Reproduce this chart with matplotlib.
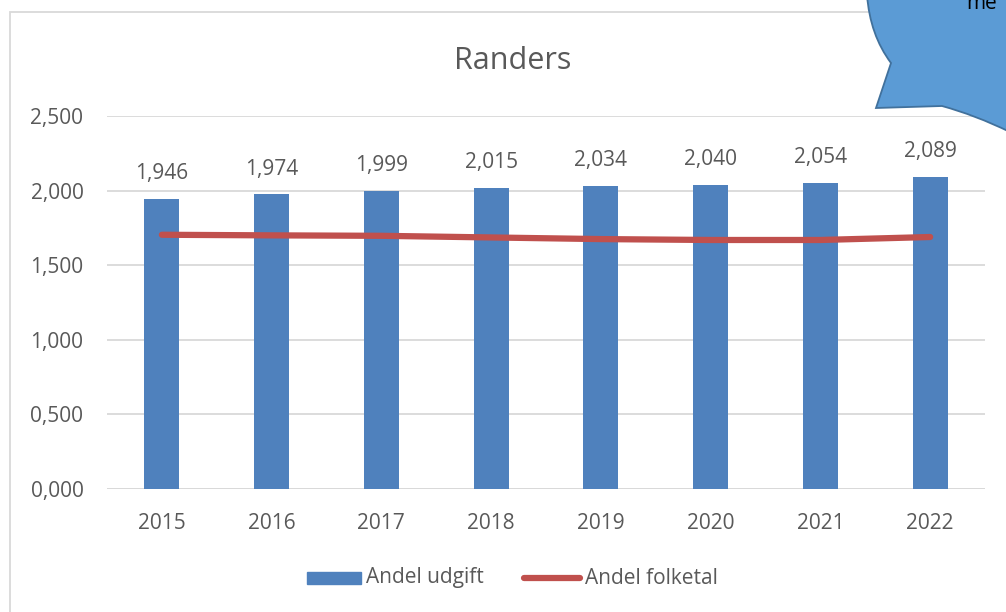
import matplotlib.pyplot as plt
import numpy as np
from matplotlib.patches import PathPatch, Rectangle
from matplotlib.path import Path

years = ["2015", "2016", "2017", "2018", "2019", "2020", "2021", "2022"]
andel_udgift = [1.946, 1.974, 1.999, 2.015, 2.034, 2.040, 2.054, 2.089]
andel_folketal = [1.704, 1.700, 1.697, 1.686, 1.675, 1.669, 1.669, 1.689]
y_ticks = [0.0, 0.5, 1.0, 1.5, 2.0, 2.5]

plt.rcParams["font.family"] = ["Open Sans", "DejaVu Sans"]
text_color = "#595959"


def dk(v):
    # Danish decimal comma, as in the source
    return f"{v:.3f}".replace(".", ",")


W, H = 1006, 612
fig = plt.figure(figsize=(W / 100, H / 100), dpi=100)
ax = fig.add_axes([107 / W, 1 - 489 / H, (985 - 107) / W, (489 - 116) / H])

x = np.arange(len(years))
ax.bar(x, andel_udgift, width=0.32, color="#4F81BD", zorder=2)
ax.plot(x, andel_folketal, color="#C0504D", linewidth=4.5,
        solid_capstyle="round", zorder=3)

for xi, v in zip(x, andel_udgift):
    ax.text(xi, v + 0.1, dk(v), ha="center", va="bottom",
            fontsize=15, color=text_color)

ax.set_xlim(-0.5, len(years) - 0.5)
ax.set_ylim(0, 2.5)
ax.set_yticks(y_ticks)
ax.set_yticklabels([dk(t) for t in y_ticks])
ax.set_xticks(x)
ax.set_xticklabels(years)
ax.tick_params(length=0, labelsize=15, colors=text_color)
ax.tick_params(axis="x", pad=17)
ax.tick_params(axis="y", pad=17)
ax.grid(axis="y", color="#D9D9D9", linewidth=1.3, zorder=0)
for s in ax.spines.values():
    s.set_visible(False)
ax.axhline(0, color="#D9D9D9", linewidth=1.3, zorder=1)

fig.text(513 / W, 1 - 61 / H, "Randers", ha="center", va="center",
         fontsize=22, color=text_color)

# chart border
fig.add_artist(Rectangle((10 / W, -0.1), 1.2, 1 - 12 / H + 0.1,
                         transform=fig.transFigure, fill=False,
                         edgecolor="#D9D9D9", linewidth=1.3))

# legend
fig.add_artist(Rectangle((307 / W, 1 - 584 / H), 54 / W, 12 / H,
                         transform=fig.transFigure, color="#4F81BD"))
fig.text(366 / W, 1 - 578 / H, "Andel udgift", va="center",
         fontsize=15, color=text_color)
fig.add_artist(plt.Line2D([524 / W, 580 / W], [1 - 578 / H, 1 - 578 / H],
                          transform=fig.transFigure, color="#C0504D",
                          linewidth=4.5, solid_capstyle="round"))
fig.text(585 / W, 1 - 578 / H, "Andel folketal", va="center",
         fontsize=15, color=text_color)

# speech bubble, partly outside the figure
pts = [(867, -5), (870, 35), (891, 63), (876, 108),
       (942, 106), (975, 115), (1010, 132), (1010, -5), (867, -5)]
codes = [Path.MOVETO, Path.CURVE3, Path.CURVE3, Path.LINETO,
         Path.LINETO, Path.CURVE3, Path.CURVE3, Path.LINETO,
         Path.CLOSEPOLY]
verts = [(px / W, 1 - py / H) for px, py in pts]
fig.add_artist(PathPatch(Path(verts, codes), transform=fig.transFigure,
                         facecolor="#5B9BD5", edgecolor="#41719C",
                         linewidth=1.3, zorder=5))
fig.text(966 / W, 1 - 9 / H, "me", ha="left", va="baseline",
         fontsize=15, color="black", zorder=6)

fig.savefig("out.png", dpi=100)
